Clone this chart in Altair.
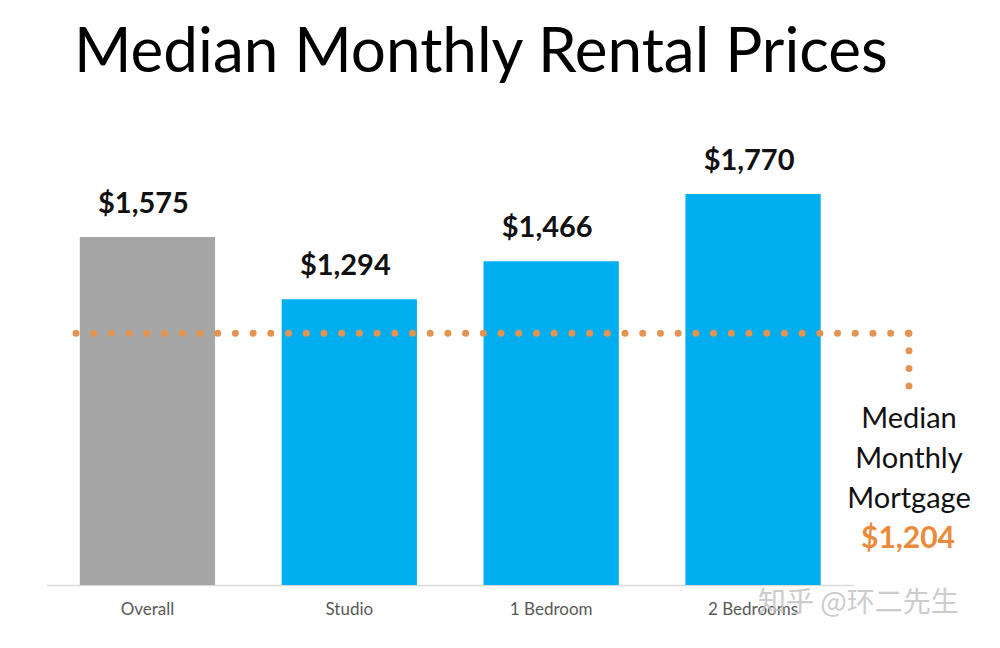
import altair as alt
import pandas as pd

categories = ["Overall", "Studio", "1 Bedroom", "2 Bedrooms"]
rents = [1575, 1294, 1466, 1770]
mortgage = 1204
line_level = 1140  # where the dotted reference line sits in the picture

bar_colors = ["#A6A6A6", "#00AEEF", "#00AEEF", "#00AEEF"]
orange = "#E39452"

df = pd.DataFrame({"category": categories, "rent": rents})
line_df = pd.DataFrame({"level": [line_level]})

FONT = "Lato"

x_scale = alt.Scale(domain=categories, range=[38.5, 846], paddingInner=0.33, paddingOuter=0.165)
y_scale = alt.Scale(domain=[0, 1770], range=[577, 186], zero=True, nice=False)

base = alt.Chart(df)

bars = base.mark_bar().encode(
    x=alt.X("category:N", scale=x_scale, sort=categories, title=None,
            axis=alt.Axis(labelAngle=0, ticks=False, labelPadding=16, labelFontSize=17,
                          labelColor="#595959", labelFont=FONT, domainColor="#D9D9D9",
                          domainWidth=1.5, grid=False)),
    y=alt.Y("rent:Q", scale=y_scale, axis=None),
    color=alt.Color("category:N", scale=alt.Scale(domain=categories, range=bar_colors), legend=None),
)

labels = base.transform_calculate(
    label="'$' + format(datum.rent, ',')"
).mark_text(font=FONT, fontSize=29, fontWeight="bold", color="#111111", dy=-24, dx=-4,
            baseline="alphabetic").encode(
    x=alt.X("category:N", scale=x_scale, sort=categories),
    y=alt.Y("rent:Q", scale=y_scale),
    text="label:N",
)

hline = alt.Chart(line_df).mark_rule(
    color=orange, strokeWidth=7, strokeCap="round", strokeDash=[0.01, 17.7]
).encode(
    x=alt.value(68), x2=alt.value(901),
    y=alt.Y("level:Q", scale=y_scale),
)

vline = alt.Chart(line_df).mark_rule(
    color=orange, strokeWidth=7, strokeCap="round", strokeDash=[0.01, 17.6]
).encode(
    x=alt.value(901),
    y=alt.Y("level:Q", scale=y_scale), y2=alt.value(378),
)

title_df = pd.DataFrame({"t": ["Median Monthly Rental Prices"]})
title = alt.Chart(title_df).mark_text(
    font=FONT, fontSize=62, color="#000000", align="left", baseline="alphabetic"
).encode(x=alt.value(66), y=alt.value(64), text="t:N")

mort_lines = pd.DataFrame({"t": ["Median", "Monthly", "Mortgage"], "row": [0, 1, 2]})
mort_text = alt.Chart(mort_lines).transform_calculate(
    ypos="420 + datum.row * 40"
).mark_text(font=FONT, fontSize=29, color="#111111", align="center", baseline="alphabetic").encode(
    x=alt.value(901), y=alt.Y("ypos:Q", scale=None), text="t:N"
)

mort_val = alt.Chart(pd.DataFrame({"v": [mortgage]})).transform_calculate(
    label="'$' + format(datum.v, ',')"
).mark_text(font=FONT, fontSize=30, fontWeight="bold", color="#EC8A3C", align="center",
            baseline="alphabetic").encode(x=alt.value(900), y=alt.value(540), text="label:N")

watermark = alt.Chart(pd.DataFrame({"t": ["知乎 @环二先生"]})).mark_text(
    font="Noto Sans CJK SC", fontSize=28, color="#C4C4C4", opacity=0.85, align="left",
    baseline="middle"
).encode(x=alt.value(750), y=alt.value(596), text="t:N")

chart = alt.layer(bars, labels, hline, vline, title, mort_text, mort_val, watermark).properties(
    width=984, height=577, padding={"left": 0, "top": 0, "right": 0, "bottom": 55},
    autosize=alt.AutoSizeParams(type="none"), background="white",
).configure_view(stroke=None)

chart.save("out.html", embed_options={"renderer": "svg", "actions": False})
